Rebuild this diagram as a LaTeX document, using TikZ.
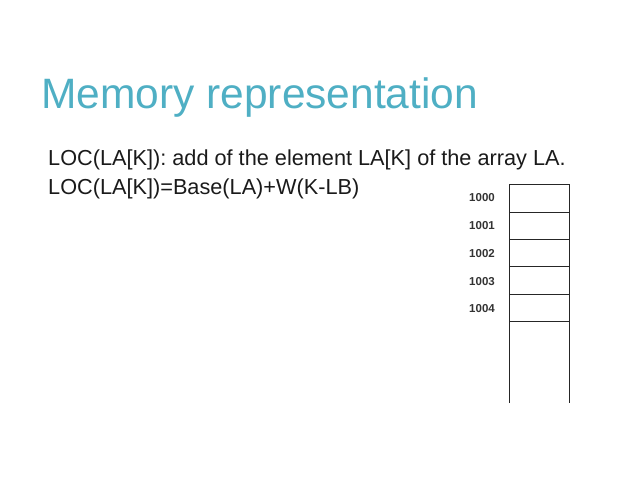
\documentclass[tikz,border=0pt]{standalone}
\usepackage{fontspec}
\setmainfont{Liberation Sans}
\definecolor{ttl}{HTML}{4FAFC4}
\definecolor{txt}{HTML}{1A1A1A}
\begin{document}
\begin{tikzpicture}[x=1pt,y=-1pt,
  body/.style={anchor=base west,inner sep=0,text=txt,font=\fontsize{21.7}{24}\selectfont},
  addr/.style={inner sep=0,font=\fontsize{11.5}{12}\selectfont\bfseries,text=black!80}]
\useasboundingbox (0,0) rectangle (638,479);
\node[anchor=base west,inner sep=0,text=ttl,font=\fontsize{42.5}{46}\selectfont] (title) at (41,108) {Memory representation};
\node[body] (l1) at (48,165) {LOC(LA[K]): add of the element LA[K] of the array LA.};
\node[body] (l2) at (48,194) {LOC(LA[K])=Base(LA)+W(K-LB)};
\draw[line width=0.9pt,black!85] (509,403) -- (509,184) -- (569,184) -- (569,403);
\foreach \y in {212,239,266,294,321} \draw[line width=0.9pt,black!85] (509,\y) -- (569,\y);
\node[addr] (a0) at (482,198) {1000};
\node[addr] (a1) at (482,226) {1001};
\node[addr] (a2) at (482,254) {1002};
\node[addr] (a3) at (482,282) {1003};
\node[addr] (a4) at (482,309) {1004};
\end{tikzpicture}
\end{document}
